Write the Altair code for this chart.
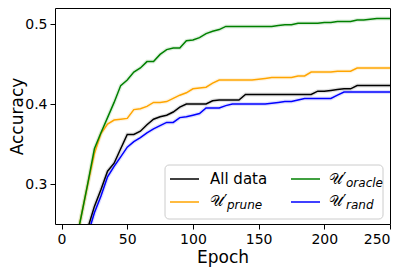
import altair as alt
import pandas as pd

epochs = list(range(10, 255, 5))

all_data = [0.180, 0.210, 0.245, 0.272, 0.293, 0.316, 0.326, 0.344, 0.362, 0.362,
            0.366, 0.374, 0.381, 0.384, 0.386, 0.390, 0.396, 0.400, 0.400, 0.400,
            0.400, 0.404, 0.405, 0.405, 0.405, 0.405, 0.412,
            0.412, 0.412, 0.412, 0.412, 0.412, 0.412, 0.412, 0.412, 0.412, 0.412,
            0.416, 0.416, 0.417, 0.418, 0.419, 0.419,
            0.423, 0.423, 0.423, 0.423, 0.423, 0.423]

prune = [0.220, 0.260, 0.300, 0.338, 0.363, 0.375, 0.380, 0.381, 0.382, 0.393,
         0.394, 0.397, 0.402, 0.402, 0.403, 0.407, 0.411, 0.414, 0.419, 0.420,
         0.421, 0.426, 0.430, 0.430, 0.430, 0.430, 0.430, 0.430, 0.431, 0.432,
         0.433, 0.433, 0.433, 0.433, 0.435, 0.435, 0.440, 0.440, 0.440, 0.440,
         0.441, 0.441, 0.441, 0.445,
         0.445, 0.445, 0.445, 0.445, 0.445]

oracle = [0.220, 0.260, 0.301, 0.344, 0.364, 0.383, 0.402, 0.423, 0.430, 0.440,
          0.445, 0.453, 0.453, 0.462, 0.468, 0.470, 0.470, 0.479, 0.480, 0.483,
          0.488, 0.491, 0.493, 0.497,
          0.497, 0.497, 0.497, 0.497, 0.497, 0.497, 0.497,
          0.498, 0.499, 0.499, 0.501, 0.501, 0.501, 0.501, 0.502, 0.502,
          0.503, 0.503, 0.503, 0.505, 0.505, 0.506, 0.507, 0.507, 0.507]

rand = [0.180, 0.205, 0.237, 0.264, 0.285, 0.309, 0.322, 0.334, 0.346, 0.353,
        0.358, 0.364, 0.369, 0.373, 0.377, 0.377, 0.383, 0.384, 0.386, 0.388,
        0.395, 0.395, 0.395, 0.398, 0.400,
        0.400, 0.400, 0.400, 0.400, 0.400,
        0.401, 0.402, 0.403, 0.403, 0.405, 0.407, 0.407, 0.407, 0.407, 0.407,
        0.411, 0.415,
        0.415, 0.415, 0.415, 0.415, 0.415, 0.415, 0.415]

series_names = ["All data", "prune", "oracle", "rand"]
series_values = [all_data, prune, oracle, rand]
series_colors = ["#000000", "#FFA500", "#008000", "#0000FF"]

x_ticks = [0, 50, 100, 150, 200, 250]
y_ticks = [0.3, 0.4, 0.5]

rows = []
for name, vals in zip(series_names, series_values):
    for e, v in zip(epochs, vals):
        rows.append({"epoch": e, "acc": v, "series": name})
df = pd.DataFrame(rows)

FONT = "DejaVu Sans"

xscale = alt.Scale(domain=[-5, 250], nice=False, zero=False)
yscale = alt.Scale(domain=[0.25, 0.52], nice=False, zero=False)
cscale = alt.Scale(domain=series_names, range=series_colors)

base = alt.Chart(df).encode(
    x=alt.X("epoch:Q", scale=xscale,
            axis=alt.Axis(values=x_ticks, title="Epoch", format="d")),
    y=alt.Y("acc:Q", scale=yscale,
            axis=alt.Axis(values=y_ticks, title="Accuracy", format=".1f",
                          titleX=-46, titleY=108, titleBaseline="top",
                          titleAlign="center", titleAngle=270)),
    color=alt.Color("series:N", scale=cscale, legend=None),
    detail="series:N",
)

halo = base.mark_line(clip=True, strokeWidth=4, opacity=0.12)
lines = base.mark_line(clip=True, strokeWidth=1.5)

one = pd.DataFrame({"k": [0]})

def box(x, x2, y, y2):
    return alt.Chart(one).mark_rect(
        fill="white", fillOpacity=0.85, stroke="#cccccc", strokeWidth=1, cornerRadius=4
    ).encode(x=alt.value(x), x2=alt.value(x2), y=alt.value(y), y2=alt.value(y2))

def sample(x, x2, y, color):
    return alt.Chart(one).mark_rule(color=color, strokeWidth=1.5).encode(
        x=alt.value(x), x2=alt.value(x2), y=alt.value(y))

def label(x, y, text, size=15, style="normal"):
    return alt.Chart(one).mark_text(
        align="left", baseline="middle", font=FONT, fontSize=size,
        fontStyle=style, color="black"
    ).encode(x=alt.value(x), y=alt.value(y), text=alt.value(text))

legend_layers = [
    box(110, 328, 157, 211),
    sample(115, 144, 171, series_colors[0]),
    sample(115, 144, 194, series_colors[1]),
    sample(236, 265, 171, series_colors[2]),
    sample(236, 265, 194, series_colors[3]),
    label(155, 171, "All data"),
    label(155, 193, "𝒰′"),
    label(172, 197, "prune", 12, "italic"),
    label(274, 171, "𝒰′"),
    label(291, 175, "oracle", 12, "italic"),
    label(274, 193, "𝒰′"),
    label(291, 197, "rand", 12, "italic"),
]

chart = alt.layer(halo, lines, *legend_layers).properties(
    width=335, height=216,
    autosize=alt.AutoSizeParams(type="none"),
    padding={"left": 47, "top": 0, "right": 12, "bottom": 47},
).configure_view(
    stroke="black", strokeWidth=1
).configure_axis(
    grid=False, domain=False, ticks=True, tickSize=5, tickColor="black",
    tickWidth=1, labelPadding=3, labelFont=FONT, labelFontSize=14,
    labelColor="black", titleFont=FONT, titleFontSize=17,
    titleFontWeight="normal", titleColor="black",
).configure_axisX(titlePadding=3)

chart.save("out.html", embed_options={"renderer": "svg", "actions": False})
